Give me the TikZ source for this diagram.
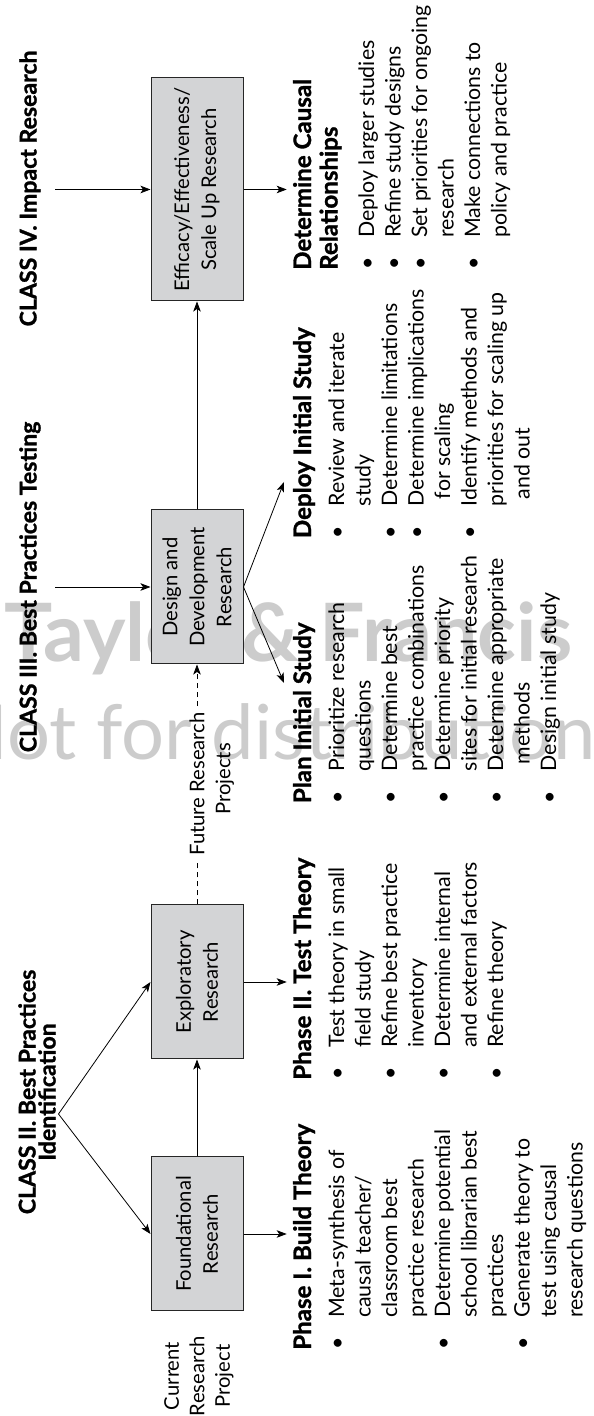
\documentclass[tikz,border=0pt]{standalone}
\usepackage{fontspec}
\setmainfont{Lato}[BoldFeatures={FakeBold=1.2}]
\newfontfamily\wmfont{Lato}
\usetikzlibrary{arrows.meta}
\definecolor{boxfill}{RGB}{211,212,214}
\definecolor{wm}{RGB}{204,204,204}
\newlength\mylen
\newcommand\fitsize[3]{%
  \settowidth\mylen{\normalfont\fontsize{10pt}{12pt}\selectfont #2}%
  \pgfmathsetmacro#1{10*#3/\mylen}%
  \global\let#1#1}
\tikzset{
  box/.style={draw=black!85, line width=1pt, fill=boxfill, minimum height=92pt, inner sep=0pt, align=center, font=\fontsize{\xsz pt}{27pt}\selectfont},
  lab/.style={inner sep=0pt, font=\fontsize{\xsz pt}{25.5pt}\selectfont},
  headc/.style={inner sep=0pt, anchor=base, font=\fontsize{\csz pt}{19pt}\selectfont\bfseries},
  headp/.style={inner sep=0pt, anchor=base west, font=\fontsize{\hsz pt}{26.5pt}\selectfont\bfseries},
  blist/.style={inner sep=0pt, anchor=base west, font=\fontsize{\bsz pt}{26.5pt}\selectfont},
  conn/.style={line width=0.8pt, draw=black},
  arr/.style={conn, -{Stealth[length=10pt,width=7.5pt,inset=2.5pt]}},
  dashc/.style={conn, dash pattern=on 5pt off 4pt},
  wmark/.style={inner sep=0pt, anchor=base west, text=wm},
}
\begin{document}
\fitsize\bsza{Meta-synthesis of}{168}
\fitsize\bszb{Determine implications}{216.7}
\fitsize\bszc{Set priorities for ongoing}{231.7}
\pgfmathsetmacro\bsz{(\bsza+\bszb+\bszc)/3}
\fitsize\xsz{Efficacy/Effectiveness/}{204}
\fitsize\hsza{\bfseries Phase I. Build Theory}{225}
\fitsize\hszb{\bfseries Deploy Initial Study}{211.6}
\pgfmathsetmacro\hsz{(\hsza+\hszb)/2}
\fitsize\csza{\bfseries CLASS III. Best Practices Testing}{340}
\fitsize\cszb{\bfseries CLASS IV. Impact Research}{283}
\fitsize\cszc{\bfseries CLASS II. Best Practices}{231}
\pgfmathsetmacro\csz{(\csza+\cszb+\cszc)/3}
\fitsize\wsza{\wmfont\bfseries Taylor \& Francis}{568}
\fitsize\wszb{\wmfont Not for distribution}{645}
\global\let\bsz\bsz \global\let\hsz\hsz \global\let\csz\csz
\begin{tikzpicture}[x=1pt,y=1pt]
\useasboundingbox (0,0) rectangle (594,1416);
\fill[white] (0,0) rectangle (594,1416);

% watermark (upright)
\node[wmark, font=\wmfont\fontsize{\wsza pt}{\wsza pt}\selectfont\bfseries] (wm1) at (4,754) {Taylor \& Francis};
\node[wmark, font=\wmfont\fontsize{\wszb pt}{\wszb pt}\selectfont] (wm2) at (-50,656) {Not for distribution};

\begin{scope}[shift={(594,0)}, rotate=90, transform shape]
% boxes
\node[box, minimum width=154pt] (found) at (182,397) {Foundational\\Research};
\node[box, minimum width=154pt] (expl) at (434,397) {Exploratory\\Research};
\node[box, minimum width=154pt] (design) at (829,397) {Design and\\Development\\Research};
\node[box, minimum width=223pt] (effic) at (1226.5,397) {Efficacy/Effectiveness/\\Scale Up Research};

% side labels
\node[lab, align=center] (cur) at (40,395) {Current\\Research\\Project};
\node[lab, inner sep=6pt] (fr) at (632,397) {Future Research};
\node[lab, anchor=base] (fp) at ([xshift=5pt,yshift=-26pt]fr.base) {Projects};

% class headings
\node[headc] (c2a) at (324,558.5) {CLASS II. Best Practices};
\node[headc] (c2b) at (324,538.5) {Identification};
\node[headc] (c3) at (829,557.5) {CLASS III. Best Practices Testing};
\node[headc] (c4) at (1227.5,557.5) {CLASS IV. Impact Research};
\coordinate (apex) at (302,535.5);
\coordinate (c3s) at (829,539);
\coordinate (c4s) at (1226.5,539);

% phase headings
\node[headp] (h1) at (66,283) {Phase I. Build Theory};
\node[headp] (h2) at (336,283) {Phase II. Test Theory};
\node[headp] (h3) at (612.7,283) {Plan Initial Study};
\node[headp] (h4) at (877.7,283) {Deploy Initial Study};
\node[headp] (h5) at (1146,283) {\begin{tabular}[t]{@{}l@{}}Determine Causal\\Relationships\end{tabular}};

% arrow tips near headings
\coordinate (t1) at (182,307.3);
\coordinate (t2) at (434,307.3);
\coordinate (t3) at (733,310);
\coordinate (t4) at (934,310);
\coordinate (t5) at (1226.5,307.3);

% bullet lists
\node[blist] (l1) at (66,250) {\begin{tabular}[t]{@{}p{32pt}@{}l@{}}
\textbullet & Meta-synthesis of\\
 & causal teacher/\\
 & classroom best\\
 & practice research\\
\textbullet & Determine potential\\
 & school librarian best\\
 & practices\\
\textbullet & Generate theory to\\
 & test using causal\\
 & research questions
\end{tabular}};
\node[blist] (l2) at (336,250) {\begin{tabular}[t]{@{}p{32pt}@{}l@{}}
\textbullet & Test theory in small\\
 & field study\\
\textbullet & Refine best practice\\
 & inventory\\
\textbullet & Determine internal\\
 & and external factors\\
\textbullet & Refine theory
\end{tabular}};
\node[blist] (l3) at (612.7,250) {\begin{tabular}[t]{@{}p{32pt}@{}l@{}}
\textbullet & Prioritize research\\
 & questions\\
\textbullet & Determine best\\
 & practice combinations\\
\textbullet & Determine priority\\
 & sites for initial research\\
\textbullet & Determine appropriate\\
 & \hspace{7pt}methods\\
\textbullet & Design initial study
\end{tabular}};
\node[blist] (l4) at (877.7,250) {\begin{tabular}[t]{@{}p{32pt}@{}l@{}}
\textbullet & Review and iterate\\
 & study\\
\textbullet & Determine limitations\\
\textbullet & Determine implications\\
 & \hspace{7pt}for scaling\\
\textbullet & Identify methods and\\
 & priorities for scaling up\\
 & \hspace{7pt}and out
\end{tabular}};
\node[blist] (l5) at (1146,220) {\begin{tabular}[t]{@{}p{32pt}@{}l@{}}
\textbullet & Deploy larger studies\\
\textbullet & Refine study designs\\
\textbullet & Set priorities for ongoing\\
 & research\\
\textbullet & Make connections to\\
 & policy and practice
\end{tabular}};

% connectors
\draw[arr] (apex) -- (found.north);
\draw[arr] (apex) -- (expl.north);
\draw[arr] (c3s) -- (design.north);
\draw[arr] (c4s) -- (effic.north);
\draw[arr] (found.east) -- (expl.west);
\draw[dashc] (expl.east) -- (fr.west);
\draw[dashc, arr] (fr.east) -- (design.west);
\draw[arr] (design.east) -- (effic.west);
\draw[arr] (found.south) -- (t1);
\draw[arr] (expl.south) -- (t2);
\draw[arr] (design.south) -- (t3);
\draw[arr] (design.south) -- (t4);
\draw[arr] (effic.south) -- (t5);
\end{scope}
\end{tikzpicture}
\end{document}
